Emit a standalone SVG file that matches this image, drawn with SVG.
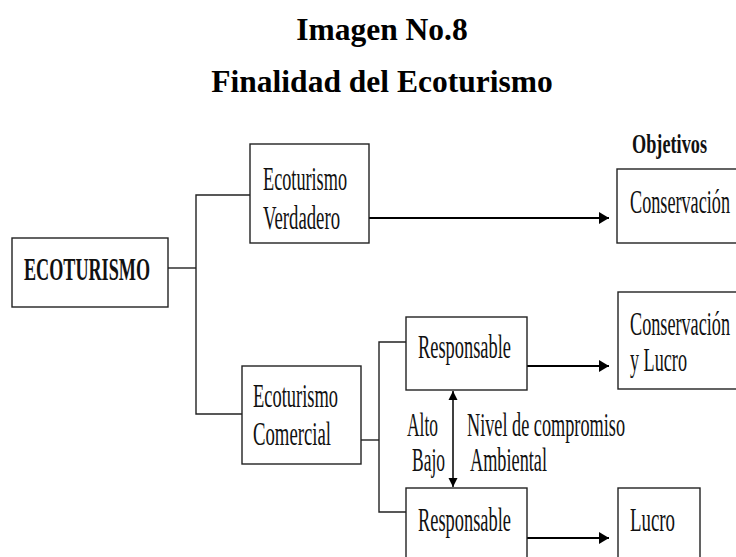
<svg xmlns="http://www.w3.org/2000/svg" width="736" height="557" viewBox="0 0 736 557">
  <defs>
    <marker id="ah" viewBox="0 0 10 12" refX="10" refY="6" markerWidth="10" markerHeight="12" markerUnits="userSpaceOnUse" orient="auto">
      <path d="M0,0 L10,6 L0,12 Z" fill="#000"/>
    </marker>
    <marker id="ahs" viewBox="0 0 10 10" refX="10" refY="5" markerWidth="9" markerHeight="10" markerUnits="userSpaceOnUse" orient="auto-start-reverse">
      <path d="M0,0 L10,5 L0,10 Z" fill="#000"/>
    </marker>
  </defs>
  <style>
    .box { fill: #fff; stroke: #222; stroke-width: 1.4; }
    .t { font-family: "Liberation Serif", "Times New Roman", serif; font-size: 34px; fill: #111; }
    .b { font-weight: bold; }
    .title { font-family: "Liberation Serif", "Times New Roman", serif; font-size: 31.5px; font-weight: bold; fill: #000; text-anchor: middle; }
    .ln { fill: none; stroke: #222; stroke-width: 1.4; }
    .ar { fill: none; stroke: #000; stroke-width: 2.2; marker-end: url(#ah); }
    .dar { fill: none; stroke: #000; stroke-width: 1.5; marker-start: url(#ahs); marker-end: url(#ahs); }
  </style>
  <rect width="736" height="557" fill="#fff"/>

  <g id="titles">
    <text class="title" x="382" y="40">Imagen No.8</text>
    <text class="title" x="382" y="92">Finalidad del Ecoturismo</text>
  </g>

  <g id="connectors">
    <polyline class="ln" points="168,268 196,268"/>
    <polyline class="ln" points="250,195 196,195 196,414 242,414"/>
    <polyline class="ln" points="361,440 379,440"/>
    <polyline class="ln" points="406,342 379,342 379,512 406,512"/>
    <line class="ar" x1="369" y1="218" x2="609" y2="218"/>
    <line class="ar" x1="527" y1="366" x2="609" y2="366"/>
    <line class="ar" x1="527" y1="538" x2="609" y2="538"/>
    <line class="dar" x1="453" y1="391" x2="453" y2="487"/>
  </g>

  <g id="ecoturismo">
    <rect class="box" x="12" y="238" width="156" height="69"/>
    <text class="t b" x="24" y="280" style="font-size:31px" textLength="126" lengthAdjust="spacingAndGlyphs">ECOTURISMO</text>
  </g>

  <g id="eco-verdadero">
    <rect class="box" x="250" y="144" width="119" height="99"/>
    <text class="t" x="263" y="190" textLength="84" lengthAdjust="spacingAndGlyphs">Ecoturismo</text>
    <text class="t" x="263" y="229" textLength="77" lengthAdjust="spacingAndGlyphs">Verdadero</text>
  </g>

  <g id="eco-comercial">
    <rect class="box" x="242" y="366" width="119" height="98"/>
    <text class="t" x="253" y="407" textLength="85" lengthAdjust="spacingAndGlyphs">Ecoturismo</text>
    <text class="t" x="253" y="445" textLength="78" lengthAdjust="spacingAndGlyphs">Comercial</text>
  </g>

  <g id="responsable-alto">
    <rect class="box" x="406" y="317" width="121" height="73"/>
    <text class="t" x="418" y="358" textLength="93" lengthAdjust="spacingAndGlyphs">Responsable</text>
  </g>

  <g id="responsable-bajo">
    <rect class="box" x="406" y="488" width="121" height="80"/>
    <text class="t" x="418" y="531" textLength="93" lengthAdjust="spacingAndGlyphs">Responsable</text>
  </g>

  <g id="nivel">
    <text class="t" x="407" y="436" textLength="31" lengthAdjust="spacingAndGlyphs">Alto</text>
    <text class="t" x="412" y="471" textLength="33" lengthAdjust="spacingAndGlyphs">Bajo</text>
    <text class="t" x="467" y="436" textLength="158" lengthAdjust="spacingAndGlyphs">Nivel de compromiso</text>
    <text class="t" x="470" y="471" textLength="77" lengthAdjust="spacingAndGlyphs">Ambiental</text>
  </g>

  <g id="objetivos">
    <text class="t b" x="632" y="153" style="font-size:27px" textLength="75" lengthAdjust="spacingAndGlyphs">Objetivos</text>
  </g>

  <g id="conservacion">
    <rect class="box" x="617" y="169" width="130" height="74"/>
    <text class="t" x="630" y="213" textLength="100" lengthAdjust="spacingAndGlyphs">Conservación</text>
  </g>

  <g id="conservacion-lucro">
    <rect class="box" x="618" y="292" width="130" height="97"/>
    <text class="t" x="630" y="335" textLength="100" lengthAdjust="spacingAndGlyphs">Conservación</text>
    <text class="t" x="630" y="371" textLength="57" lengthAdjust="spacingAndGlyphs">y Lucro</text>
  </g>

  <g id="lucro">
    <rect class="box" x="618" y="488" width="82" height="80"/>
    <text class="t" x="630" y="531" textLength="45" lengthAdjust="spacingAndGlyphs">Lucro</text>
  </g>
</svg>
